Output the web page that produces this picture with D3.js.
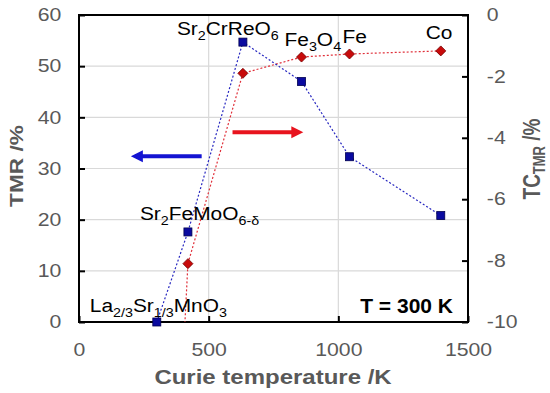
<!DOCTYPE html>
<html>
<head>
<meta charset="utf-8">
<script src="https://cdn.jsdelivr.net/npm/d3@7"></script>
<style>
body{margin:0;background:#fff}
svg{display:block;font-family:"Liberation Sans",Arial,sans-serif}
</style>
</head>
<body>
<svg width="550" height="393"></svg>
<script>
// data
var materials = ["La2/3Sr1/3MnO3", "Sr2FeMoO6-δ", "Sr2CrReO6", "Fe3O4", "Fe", "Co"];
var curieTemp = [300, 420, 632, 858, 1043, 1395];
var tmr = [0, 17.6, 54.7, 47.0, 32.3, 20.8];
var tcTmr = [-28, -8.1, -1.9, -1.37, -1.27, -1.17];
var xTicks = [0, 500, 1000, 1500];
var leftTicks = [0, 10, 20, 30, 40, 50, 60];
var rightTicks = [0, -2, -4, -6, -8, -10];
// arrows (K, TMR %)
var arrowFrom = [473, 592];
var arrowTo = [200, 865];
var arrowAt = [32.4, 37.1];
var arrowColor = ["#1414d2", "#e8141e"];

// label pieces, "_" marks subscript
var labelParts = [
  [["La"], ["2/3", "_"], ["Sr"], ["1/3", "_"], ["MnO"], ["3", "_"]],
  [["Sr"], ["2", "_"], ["FeMoO"], ["6-δ", "_"]],
  [["Sr"], ["2", "_"], ["CrReO"], ["6", "_"]],
  [["Fe"], ["3", "_"], ["O"], ["4", "_"]],
  [["Fe"]],
  [["Co"]]
];
var labelDx = [-67, -48, -66, -17, -7, -15];
var labelDy = [-10, -12, -7, -11, -11, -12];
var labelOnRed = [false, false, false, true, true, true];

var width = 550, height = 393;
var margin = {left: 79, right: 82, top: 15, bottom: 71};
var svg = d3.select("svg");
var grey = "#595959";

var x = d3.scaleLinear().domain([0, 1500]).range([margin.left, width - margin.right]);
var yL = d3.scaleLinear().domain([0, 60]).range([height - margin.bottom, margin.top]);
var yR = d3.scaleLinear().domain([-10, 0]).range([height - margin.bottom, margin.top]);

// grid
svg.append("g").selectAll("line")
   .data(leftTicks.slice(1, -1))
   .enter().append("line")
   .attr("x1", x(0)).attr("x2", x(1500))
   .attr("y1", function(d){return yL(d);}).attr("y2", function(d){return yL(d);})
   .attr("stroke", "#d9d9d9").attr("stroke-width", 1.2);
svg.append("g").selectAll("line")
   .data(xTicks.slice(1, -1))
   .enter().append("line")
   .attr("y1", yL(0)).attr("y2", yL(60))
   .attr("x1", function(d){return x(d);}).attr("x2", function(d){return x(d);})
   .attr("stroke", "#d9d9d9").attr("stroke-width", 1.2);

var fmt = function(d){return String(d);};
var stretchTicks = function(g, sx){
  g.select(".domain").remove();
  g.selectAll(".tick line").attr("stroke", "#000").attr("stroke-width", 2);
  g.selectAll(".tick text").attr("fill", grey).attr("font-size", 18)
   .attr("transform", "scale(" + sx + ",1)");
};

svg.append("g")
   .attr("transform", "translate(0," + yL(0) + ")")
   .call(d3.axisBottom(x).tickValues(xTicks).tickFormat(fmt).tickSizeInner(-6).tickSizeOuter(0).tickPadding(21))
   .call(stretchTicks, 1.18)
   .attr("font-family", null);
svg.append("g")
   .attr("transform", "translate(" + x(0) + ",0)")
   .call(d3.axisLeft(yL).tickValues(leftTicks).tickFormat(fmt).tickSizeInner(-6).tickSizeOuter(0).tickPadding(15))
   .call(stretchTicks, 1.18)
   .attr("font-family", null);
svg.append("g")
   .attr("transform", "translate(" + x(1500) + ",0)")
   .call(d3.axisRight(yR).tickValues(rightTicks).tickFormat(fmt).tickSizeInner(-6).tickSizeOuter(0).tickPadding(16))
   .call(stretchTicks, 1.18)
   .attr("font-family", null);

// plot box
svg.append("rect")
   .attr("x", x(0)).attr("y", yL(60))
   .attr("width", x(1500) - x(0)).attr("height", yL(0) - yL(60))
   .attr("fill", "none").attr("stroke", "#000").attr("stroke-width", 2);

svg.append("clipPath").attr("id", "plot")
   .append("rect")
   .attr("x", x(0)).attr("y", yL(60))
   .attr("width", x(1500) - x(0)).attr("height", yL(0) - yL(60));

var idx = d3.range(curieTemp.length);

// red series (right axis)
var redLine = d3.line()
   .x(function(i){return x(curieTemp[i]);})
   .y(function(i){return yR(tcTmr[i]);});
svg.append("path")
   .attr("d", redLine(idx))
   .attr("clip-path", "url(#plot)")
   .attr("fill", "none").attr("stroke", "#e0303a").attr("stroke-width", 1.2)
   .attr("stroke-dasharray", "2,2");

// blue series (left axis)
var blueLine = d3.line()
   .x(function(i){return x(curieTemp[i]);})
   .y(function(i){return yL(tmr[i]);});
svg.append("path")
   .attr("d", blueLine(idx))
   .attr("fill", "none").attr("stroke", "#2828c0").attr("stroke-width", 1.2)
   .attr("stroke-dasharray", "2,2");

svg.append("g").attr("clip-path", "url(#plot)")
   .selectAll("path")
   .data(idx.filter(function(i){return tcTmr[i] >= -10;}))
   .enter().append("path")
   .attr("d", d3.symbol(d3.symbolSquare, 50)())
   .attr("transform", function(i){return "translate(" + x(curieTemp[i]) + "," + yR(tcTmr[i]) + ") rotate(45)";})
   .attr("fill", "#c80a0a").attr("stroke", "#7a0000").attr("stroke-width", 0.8);

svg.append("g")
   .selectAll("rect")
   .data(idx)
   .enter().append("rect")
   .attr("x", function(i){return x(curieTemp[i]) - 4;})
   .attr("y", function(i){return yL(tmr[i]) - 4;})
   .attr("width", 8).attr("height", 8)
   .attr("fill", "#0a0aa0").attr("stroke", "#000050").attr("stroke-width", 0.8);

// arrows
svg.append("g").selectAll("path")
   .data(d3.range(arrowFrom.length))
   .enter().append("path")
   .attr("d", function(i){
     var x0 = x(arrowFrom[i]), x1 = x(arrowTo[i]), y = yL(arrowAt[i]);
     var s = x1 > x0 ? 1 : -1, h = 12;
     var xb = x1 - s * h;
     return "M" + x0 + "," + (y - 2) + "L" + xb + "," + (y - 2) + "L" + xb + "," + (y - 6) +
            "L" + x1 + "," + y + "L" + xb + "," + (y + 6) + "L" + xb + "," + (y + 2) +
            "L" + x0 + "," + (y + 2) + "Z";
   })
   .attr("fill", function(i){return arrowColor[i];});

// point labels
var lab = svg.append("g").selectAll("text")
   .data(idx)
   .enter().append("text")
   .attr("transform", function(i){
     var py = labelOnRed[i] ? yR(tcTmr[i]) : yL(tmr[i]);
     return "translate(" + (x(curieTemp[i]) + labelDx[i]) + "," + (py + labelDy[i]) + ") scale(1.1,1)";
   })
   .attr("font-size", 19).attr("fill", "#000");
lab.each(function(i){
  var t = d3.select(this), shift = 0;
  labelParts[i].forEach(function(p){
    var sub = p[1] === "_";
    var want = sub ? 5 : 0;
    t.append("tspan").attr("dy", want - shift)
     .attr("font-size", sub ? 13 : 19).text(p[0]);
    shift = want;
  });
});

svg.append("text")
   .attr("x", 453).attr("y", 313).attr("text-anchor", "end")
   .attr("font-size", 21).attr("font-weight", "bold").attr("fill", "#000")
   .text("T = 300 K");

// axis titles
svg.append("text")
   .attr("transform", "translate(273,384) scale(1.2,1)")
   .attr("text-anchor", "middle")
   .attr("font-size", 20).attr("font-weight", "bold").attr("fill", grey)
   .text("Curie temperature /K");
svg.append("text")
   .attr("transform", "translate(23,166) rotate(-90) scale(1.26,1)")
   .attr("text-anchor", "middle")
   .attr("font-size", 18).attr("font-weight", "bold").attr("fill", grey)
   .text("TMR /%");
var rt = svg.append("text")
   .attr("transform", "translate(540,159) rotate(-90) scale(1,1.3)")
   .attr("text-anchor", "middle")
   .attr("font-size", 19).attr("font-weight", "bold").attr("fill", grey);
rt.append("tspan").text("TC");
rt.append("tspan").attr("font-size", 13).attr("dy", 4).text("TMR");
rt.append("tspan").attr("dy", -4).text(" /%");
</script>
</body>
</html>
